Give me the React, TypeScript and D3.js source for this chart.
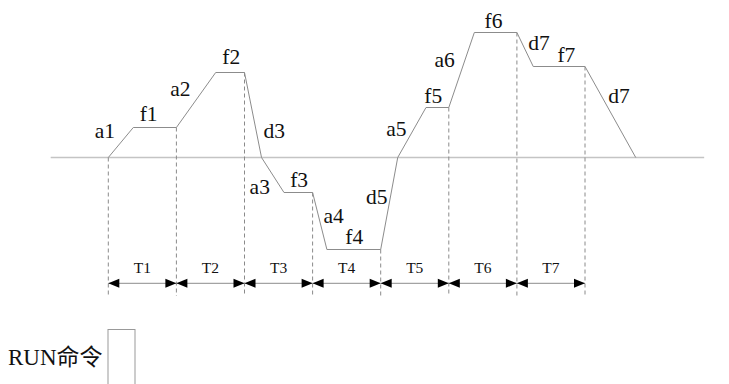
import React from "react";
import * as d3 from "d3";

// Speed profile (time in T units, speed relative to baseline)
const profileTime = [0, 0.367, 1, 1.577, 2, 2.25, 2.58, 3, 3.21, 4, 4.25, 4.665, 5, 5.375, 6, 6.24, 7, 7.745];
const profileSpeed = [0, 30, 30, 85, 85, 0, -35, -35, -92, -92, 0, 50, 50, 125, 125, 91, 91, 0];

// Interval boundaries and their speed levels
const boundaryTime = [0, 1, 2, 3, 4, 5, 6, 7];
const boundarySpeed = [0, 30, 85, -35, -92, 50, 125, 91];
const intervalLabels = ["T1", "T2", "T3", "T4", "T5", "T6", "T7"];

// Segment labels
const segLabels = ["a1", "f1", "a2", "f2", "d3", "a3", "f3", "a4", "f4", "d5", "a5", "f5", "a6", "f6", "d7", "f7", "d7"];
const segLabelTime = [-0.2, 0.46, 0.91, 1.675, 2.28, 2.075, 2.67, 3.16, 3.48, 3.785, 4.08, 4.64, 4.79, 5.525, 6.168, 6.595, 7.343];
const segLabelSpeed = [20, 37, 62, 94, 20, -36, -29, -65, -86, -46, 22, 55, 91, 130, 107.5, 95.5, 55];

const axisRange = [-0.846, 8.75];

const W = 729;
const H = 384;

export default function App() {
  const x = d3.scaleLinear().domain([0, 7]).range([108.3, 585]);
  const y = d3.scaleLinear().domain([0, 100]).range([157.5, 57.5]);

  const line = d3
    .line<number>()
    .x((_, i) => x(profileTime[i]))
    .y((d) => y(d));

  const dashBottom = 296;
  const arrowY = 283.3;
  const aLen = 11;
  const aHalf = 4.5;

  return (
    <svg
      width={W}
      height={H}
      style={{ position: "fixed", left: 0, top: 0, background: "#fff" }}
      fontFamily="'Liberation Serif', 'Times New Roman', serif"
    >
      {/* baseline */}
      <line x1={x(axisRange[0])} x2={x(axisRange[1])} y1={y(0)} y2={y(0)} stroke="#c4c4c4" strokeWidth={1.6} />

      {/* dashed verticals */}
      {boundaryTime.map((t, i) => (
        <line
          key={"d" + i}
          x1={x(t)}
          x2={x(t)}
          y1={y(boundarySpeed[i])}
          y2={dashBottom}
          stroke="#8a8a8a"
          strokeWidth={1}
          strokeDasharray="4,3"
        />
      ))}

      {/* profile */}
      <path d={line(profileSpeed) || ""} fill="none" stroke="#8c8c8c" strokeWidth={1} />

      {/* interval arrows */}
      {intervalLabels.map((lab, i) => {
        const x0 = x(boundaryTime[i]);
        const x1 = x(boundaryTime[i + 1]);
        return (
          <g key={"t" + i}>
            <line x1={x0} x2={x1} y1={arrowY} y2={arrowY} stroke="#8c8c8c" strokeWidth={1} />
            <path d={`M${x0},${arrowY}L${x0 + aLen},${arrowY - aHalf}L${x0 + aLen},${arrowY + aHalf}Z`} fill="#000" />
            <path d={`M${x1},${arrowY}L${x1 - aLen},${arrowY - aHalf}L${x1 - aLen},${arrowY + aHalf}Z`} fill="#000" />
            <text x={(x0 + x1) / 2} y={272.5} fontSize={15.5} textAnchor="middle" fill="#111">
              {lab}
            </text>
          </g>
        );
      })}

      {/* segment labels */}
      {segLabels.map((s, i) => (
        <text key={"s" + i} x={x(segLabelTime[i])} y={y(segLabelSpeed[i])} fontSize={21.5} fill="#111">
          {s}
        </text>
      ))}

      {/* RUN command */}
      <text x={8} y={365} fontSize={23} fill="#111" fontFamily="'Liberation Serif', 'Noto Sans CJK SC', serif">
        RUN命令
      </text>
      <rect x={108} y={329.5} width={27} height={70} fill="none" stroke="#999" strokeWidth={1} />
    </svg>
  );
}
